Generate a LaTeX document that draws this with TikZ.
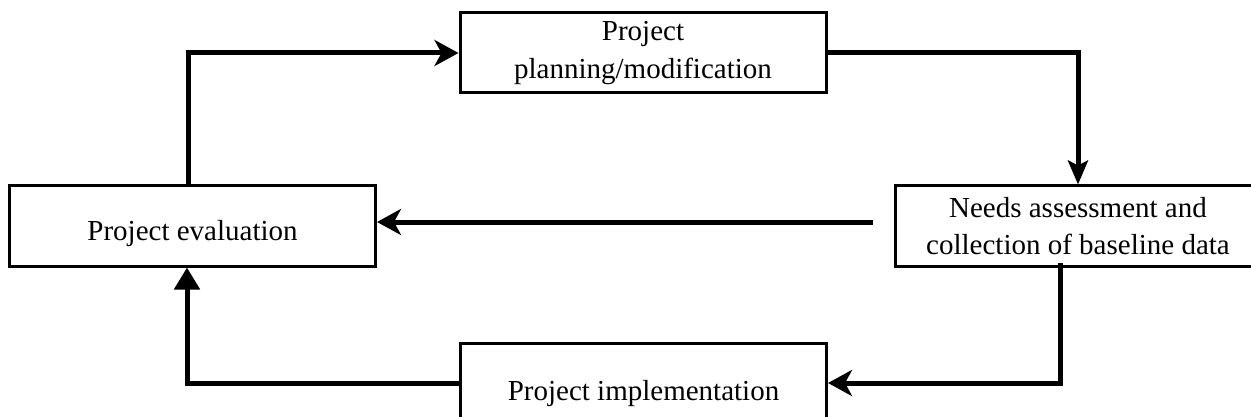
\documentclass[tikz,border=0pt]{standalone}
\usepackage{fontspec}
\setmainfont{Liberation Serif}
\usetikzlibrary{arrows.meta}
\begin{document}
\begin{tikzpicture}[x=1pt,y=-1pt,
  box/.style={draw,line width=3pt,minimum width=366pt,minimum height=80pt,inner sep=0pt,align=center,
    font=\fontsize{29}{37.5}\selectfont},
  conn/.style={line width=5pt},
  stl/.style={conn,-{Stealth[length=24pt,width=26pt,inset=7pt]}},
  stldown/.style={conn,-{Stealth[length=24pt,width=20pt,inset=5pt]}},
  tri/.style={conn,-{Triangle[length=22pt,width=25pt]}}
]
\useasboundingbox (0,0) rectangle (1251,417);
\clip (0,0) rectangle (1251,417);
\fill[white] (0,0) rectangle (1251,417);

\node[box] (top) at (643,53) {Project\\planning/modification};
\node[box,text height=29pt,text depth=0pt] (eval) at (192.5,226) {Project evaluation};
\node[box] (needs) at (1078,226) {Needs assessment and\\collection of baseline data};
\node[box,text height=35pt,text depth=0pt] (impl) at (643.5,383) {Project implementation};

\coordinate (s3) at (873,222);
\coordinate (s4) at (1060,263);

\draw[stl] ([xshift=-4.5pt]eval.north) |- (top.west);
\draw[stldown] (top.east) -| (needs.north);
\draw[stl] (s3) -- (s3 -| eval.east);
\draw[stl] (s4) |- (impl.east);
\draw[tri] (impl.west) -| ([xshift=-5.5pt]eval.south);
\end{tikzpicture}
\end{document}
